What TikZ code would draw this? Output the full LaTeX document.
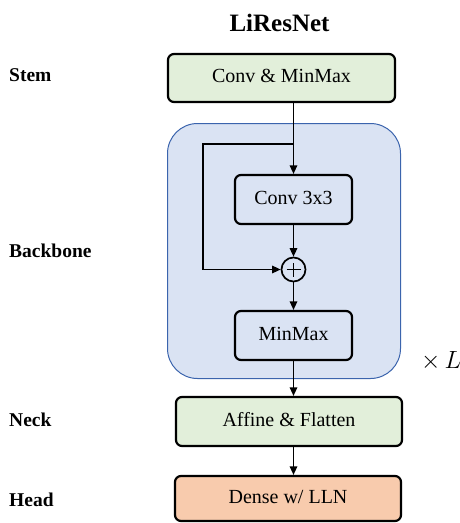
\documentclass[tikz,border=0pt]{standalone}
\usepackage{fontspec}
\setmainfont{Liberation Serif}
\usetikzlibrary{arrows.meta}
\definecolor{stemgreen}{HTML}{E2EFDA}
\definecolor{bbfill}{HTML}{DAE3F3}
\definecolor{bbdraw}{HTML}{3B64AD}
\definecolor{headorange}{HTML}{F8CBAD}
\tikzset{
  blk/.style={draw=black, line width=2.2pt, rounded corners=6pt, inner sep=0pt,
    font=\fontsize{20}{20}\selectfont, text height=13.5pt, text depth=4pt},
  lbl/.style={anchor=base west, inner sep=0pt, font=\fontsize{19.5}{19.5}\selectfont\bfseries},
  arr/.style={line width=1.4pt, -{Triangle[length=8.5pt,width=7.5pt]}},
  ln/.style={line width=1.4pt}
}
\begin{document}
\begin{tikzpicture}[x=1pt,y=-1pt]
\useasboundingbox (0,0) rectangle (460,523);
% title
\node[anchor=base, inner sep=0pt, font=\fontsize{25}{25}\selectfont\bfseries] (title) at (279.5,31) {LiResNet};
% labels
\node[lbl] (lstem) at (9,81) {Stem};
\node[lbl] (lbb) at (9,257) {Backbone};
\node[lbl] (lneck) at (9,426) {Neck};
\node[lbl] (lhead) at (9,506) {Head};
% backbone region
\draw[fill=bbfill, draw=bbdraw, line width=1pt, rounded corners=30pt] (167.5,123.5) rectangle (400.5,378.5);
% boxes
\node[blk, fill=stemgreen, minimum width=227pt, minimum height=48pt] (stem) at (281.5,78) {Conv \& MinMax};
\node[blk, fill=bbfill, minimum width=117pt, minimum height=49pt] (conv) at (293.5,199.5) {Conv 3x3};
\node[blk, fill=bbfill, minimum width=117pt, minimum height=49pt] (mm) at (293.5,335.5) {MinMax};
\node[blk, fill=stemgreen, minimum width=226pt, minimum height=49pt] (aff) at (289,421.5) {Affine \& Flatten};
\node[blk, fill=headorange, minimum width=226pt, minimum height=45pt] (dense) at (288,498.5) {Dense w/ LLN};
% plus
\node[draw=black, line width=1.7pt, circle, minimum size=24pt, inner sep=0pt] (plus) at (293.5,269.5) {};
\draw[line width=1.7pt] ([xshift=-7pt]plus.center) -- ([xshift=7pt]plus.center)
  ([yshift=-7pt]plus.center) -- ([yshift=7pt]plus.center);
% times L
\node[anchor=base west, inner sep=0pt, font=\fontsize{23}{23}\selectfont] (times) at (421,368) {$\times\, L$};
% connectors
\coordinate (split) at (293.5,144);
\coordinate (skipa) at (203,144);
\coordinate (skipb) at (203,269.5);
\draw[arr] (conv.north |- stem.south) -- (conv.north);
\draw[arr] (conv.south) -- (plus.north);
\draw[arr] (plus.south) -- (mm.north);
\draw[ln] (split) -- (skipa) -- (skipb);
\draw[arr] (skipb) -- (plus.west);
\draw[arr] (mm.south) -- (mm.south |- aff.north);
\draw[arr] (mm.south |- aff.south) -- (mm.south |- dense.north);
\end{tikzpicture}
\end{document}
